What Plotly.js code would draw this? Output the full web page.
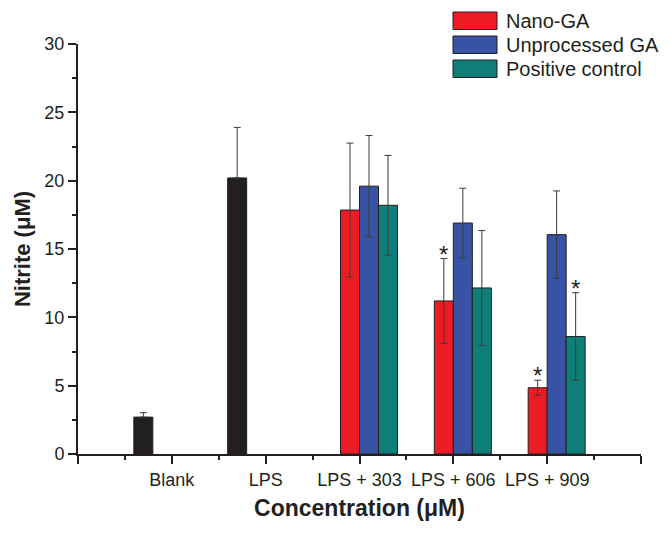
<!DOCTYPE html>
<html>
<head>
<meta charset="utf-8">
<script src="https://cdn.plot.ly/plotly-3.0.1.min.js"></script>
<style>
  body { margin: 0; background: #fff; }
  #chart { width: 670px; height: 533px; }
</style>
</head>
<body>
<div id="chart"></div>
<script>
// data (nitrite, uM)
const categories = ['Blank', 'LPS', 'LPS + 303', 'LPS + 606', 'LPS + 909'];

const controlVals = [2.7, 20.2, null, null, null];
const controlErr = [0.32, 3.7, 0, 0, 0];

const nanoVals = [null, null, 17.85, 11.2, 4.85];
const nanoErr = [0, 0, 4.9, 3.1, 0.55];
const nanoSig = [false, false, false, true, true];

const rawVals = [null, null, 19.6, 16.9, 16.05];
const rawErr = [0, 0, 3.7, 2.55, 3.2];
const rawSig = [false, false, false, false, false];

const posVals = [null, null, 18.2, 12.15, 8.6];
const posErr = [0, 0, 3.65, 4.2, 3.2];
const posSig = [false, false, false, false, true];

const seriesNames = ['Nano-GA', 'Unprocessed GA', 'Positive control'];
const seriesColors = ['#ED1C24', '#3953A4', '#0E7F78'];
const controlColor = '#231F20';

const W = 670, H = 533;
const M = { l: 78, r: 29, t: 44, b: 79 };
const pw = W - M.l - M.r, ph = H - M.t - M.b;
const px = x => (x - M.l) / pw;
const py = y => (H - M.b - y) / ph;

const FONT = 'Arial, "Liberation Sans", Helvetica, sans-serif';
const INK = '#231F20';
const BARGAP = 0.19;
const xs = categories.map((_, i) => i);

function barTrace(name, vals, err, color, upperOnly) {
  const eb = {
    type: 'data', array: err, visible: true,
    color: '#3a3a3a', thickness: 1, width: 3.5
  };
  if (upperOnly) {
    eb.symmetric = false;
    eb.arrayminus = err.map(() => 0);
  }
  return {
    type: 'bar',
    name: name,
    x: xs,
    y: vals,
    showlegend: false,
    marker: { color: color, line: { color: INK, width: 1 } },
    error_y: eb
  };
}

const traces = [
  barTrace('Control', controlVals, controlErr, controlColor, true),
  barTrace(seriesNames[0], nanoVals, nanoErr, seriesColors[0], false),
  barTrace(seriesNames[1], rawVals, rawErr, seriesColors[1], false),
  barTrace(seriesNames[2], posVals, posErr, seriesColors[2], false)
];

// significance stars above the error caps
const annotations = [];
const slot = (1 - BARGAP) / 4;
[[nanoVals, nanoErr, nanoSig], [rawVals, rawErr, rawSig], [posVals, posErr, posSig]]
  .forEach(([vals, err, sig], k) => {
    sig.forEach((s, i) => {
      if (!s) return;
      annotations.push({
        x: i + (k + 1 - 1.5) * slot,
        y: vals[i] + err[i],
        xref: 'x', yref: 'y',
        text: '*', showarrow: false,
        yanchor: 'bottom', yshift: -11,
        font: { family: FONT, size: 24, color: INK }
      });
    });
  });

// legend drawn as boxes + text to match the long swatches
const shapes = [];
seriesNames.forEach((name, i) => {
  const top = 12 + i * 24;
  shapes.push({
    type: 'rect', xref: 'paper', yref: 'paper',
    x0: px(453), x1: px(497), y0: py(top + 17.5), y1: py(top),
    fillcolor: seriesColors[i], line: { color: INK, width: 1 }
  });
  annotations.push({
    xref: 'paper', yref: 'paper',
    x: px(504), y: py(top + 9),
    xanchor: 'left', yanchor: 'middle',
    text: name, showarrow: false,
    font: { family: FONT, size: 20, color: INK }
  });
});

const axisBase = {
  showline: true, linecolor: INK, linewidth: 2,
  ticks: 'outside', ticklen: 8, tickwidth: 2, tickcolor: INK,
  showgrid: false, zeroline: false,
  tickfont: { family: FONT, size: 18, color: INK }
};

const layout = {
  width: W, height: H,
  margin: M,
  paper_bgcolor: '#fff', plot_bgcolor: '#fff',
  barmode: 'group', bargap: BARGAP, bargroupgap: 0,
  showlegend: false,
  xaxis: Object.assign({}, axisBase, {
    type: 'linear', range: [-1, 5],
    tickmode: 'array',
    tickvals: [-1].concat(xs, [categories.length]),
    ticktext: [''].concat(categories, ['']),
    minor: { tickmode: 'linear', tick0: 0.5, dtick: 1, ticks: 'outside', ticklen: 4, tickwidth: 2, tickcolor: INK },
    title: { text: 'Concentration (μM)', standoff: 11, font: { family: FONT, size: 23, color: INK, weight: 'bold' } }
  }),
  yaxis: Object.assign({}, axisBase, {
    range: [0, 30], dtick: 5,
    minor: { dtick: 2.5, ticks: 'outside', ticklen: 4, tickwidth: 2, tickcolor: INK },
    title: { text: 'Nitrite (μM)', standoff: 8, font: { family: FONT, size: 22, color: INK, weight: 'bold' } }
  }),
  shapes: shapes,
  annotations: annotations
};

Plotly.newPlot('chart', traces, layout, { displayModeBar: false, staticPlot: true });
</script>
</body>
</html>
